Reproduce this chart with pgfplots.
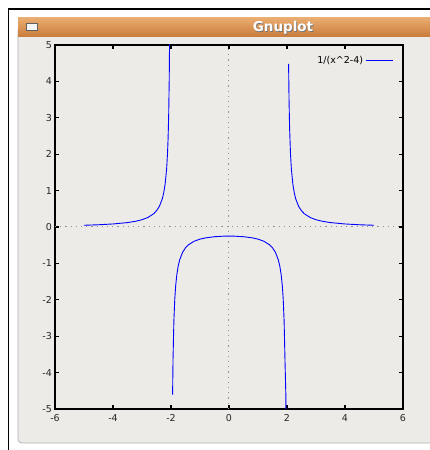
\documentclass[border=0pt]{standalone}
\usepackage{fontspec}
\setmainfont{DejaVu Sans}
\usepackage{pgfplots}
\pgfplotsset{compat=1.18}
\definecolor{bgc}{RGB}{237,235,231}
\definecolor{tbtop}{RGB}{234,172,112}
\definecolor{tbbot}{RGB}{200,122,58}
\definecolor{curve}{RGB}{0,0,255}
\begin{document}
\begin{tikzpicture}[x=1pt,y=1pt]
\useasboundingbox (0,0) rectangle (430,450);
\fill[white] (0,0) rectangle (430,450);
% outer black frame
\draw[black, line width=1.2pt] (8.6,0) -- (8.6,441) -- (430,441);
% window body
\fill[bgc, rounded corners=4pt] (18,7) rectangle (440,430);
\draw[gray!60, line width=0.8pt, rounded corners=4pt] (440,7) -- (18,7) -- (18,420);
% title bar
\shade[top color=tbtop, bottom color=tbbot] (18,413) rectangle (430,432);
\draw[gray!75!black, fill=white!92!gray, line width=0.6pt] (26.5,419.5) rectangle (37,426.5);
\node[text=black!55, font=\bfseries\fontsize{13.5}{15}\selectfont] at (283.8,421.7) {Gnuplot};
\node[text=white, font=\bfseries\fontsize{13.5}{15}\selectfont] at (283,422.5) {Gnuplot};
\begin{axis}[
  at={(55pt,41pt)}, anchor=south west,
  width=348pt, height=364pt, scale only axis,
  xmin=-6, xmax=6, ymin=-5, ymax=5,
  xtick={-6,-4,-2,0,2,4,6},
  ytick={-5,-4,-3,-2,-1,0,1,2,3,4,5},
  tick align=inside,
  major tick length=4pt,
  axis line style={line width=1.3pt},
  every tick/.style={black, line width=1.2pt},
  axis background/.style={fill=bgc},
  tick label style={font=\fontsize{9.5}{11}\selectfont, text=black!85},
  /pgf/number format/assume math mode=true,
  yticklabel style={inner sep=1pt, xshift=-2pt},
  xticklabel style={inner sep=1pt, yshift=-4pt},
  legend plot pos=right,
  legend style={draw=none, fill=none, at={(axis description cs:0.972,0.975)}, anchor=north east,
    font=\fontsize{9.5}{11}\selectfont, inner sep=0pt},
  legend image code/.code={\draw[#1] (0pt,0pt) -- (27pt,0pt);},
]
\draw[gray!85, line width=1pt, dash pattern=on 1.2pt off 4pt] (axis cs:-6,0) -- (axis cs:6,0);
\draw[gray!85, line width=1pt, dash pattern=on 1.2pt off 4pt] (axis cs:0,-5) -- (axis cs:0,5);
\addplot[curve, line width=0.9pt] coordinates {
(-5,0.0476) (-4.5,0.0615) (-4,0.0833) (-3.5,0.1212) (-3.2,0.1603) (-3,0.2)
(-2.8,0.2604) (-2.6,0.3623) (-2.5,0.4444) (-2.4,0.5682) (-2.3,0.7752)
(-2.25,0.9412) (-2.2,1.1905) (-2.15,1.6064) (-2.12,2.0227) (-2.1,2.439)
(-2.08,3.0637) (-2.06,4.105) (-2.04,6.188)
};
\addlegendentry{1/(x\char`^2-4)}
\addplot[curve, line width=0.9pt, forget plot] coordinates {
(-1.945,-4.608) (-1.93,-3.635) (-1.9,-2.564) (-1.87,-1.9876) (-1.84,-1.6276)
(-1.8,-1.3158) (-1.75,-1.0667) (-1.7,-0.9009) (-1.6,-0.6944) (-1.5,-0.5714)
(-1.4,-0.4902) (-1.2,-0.3906) (-1,-0.3333) (-0.8,-0.2976) (-0.5,-0.2667)
(-0.2,-0.2525) (0,-0.25) (0.2,-0.2525) (0.5,-0.2667) (0.8,-0.2976)
(1,-0.3333) (1.2,-0.3906) (1.4,-0.4902) (1.5,-0.5714) (1.6,-0.6944)
(1.7,-0.9009) (1.75,-1.0667) (1.8,-1.3158) (1.84,-1.6276) (1.87,-1.9876)
(1.9,-2.564) (1.93,-3.635) (1.96,-4.6) (1.99,-8.396)
};
\addplot[curve, line width=0.9pt, forget plot] coordinates {
(2.055,4.484) (2.07,3.51) (2.09,2.7167) (2.12,2.0227) (2.15,1.6064)
(2.2,1.1905) (2.25,0.9412) (2.3,0.7752) (2.4,0.5682) (2.5,0.4444)
(2.6,0.3623) (2.8,0.2604) (3,0.2) (3.2,0.1603) (3.5,0.1212)
(4,0.0833) (4.5,0.0615) (5,0.0476)
};
\end{axis}
\end{tikzpicture}
\end{document}
